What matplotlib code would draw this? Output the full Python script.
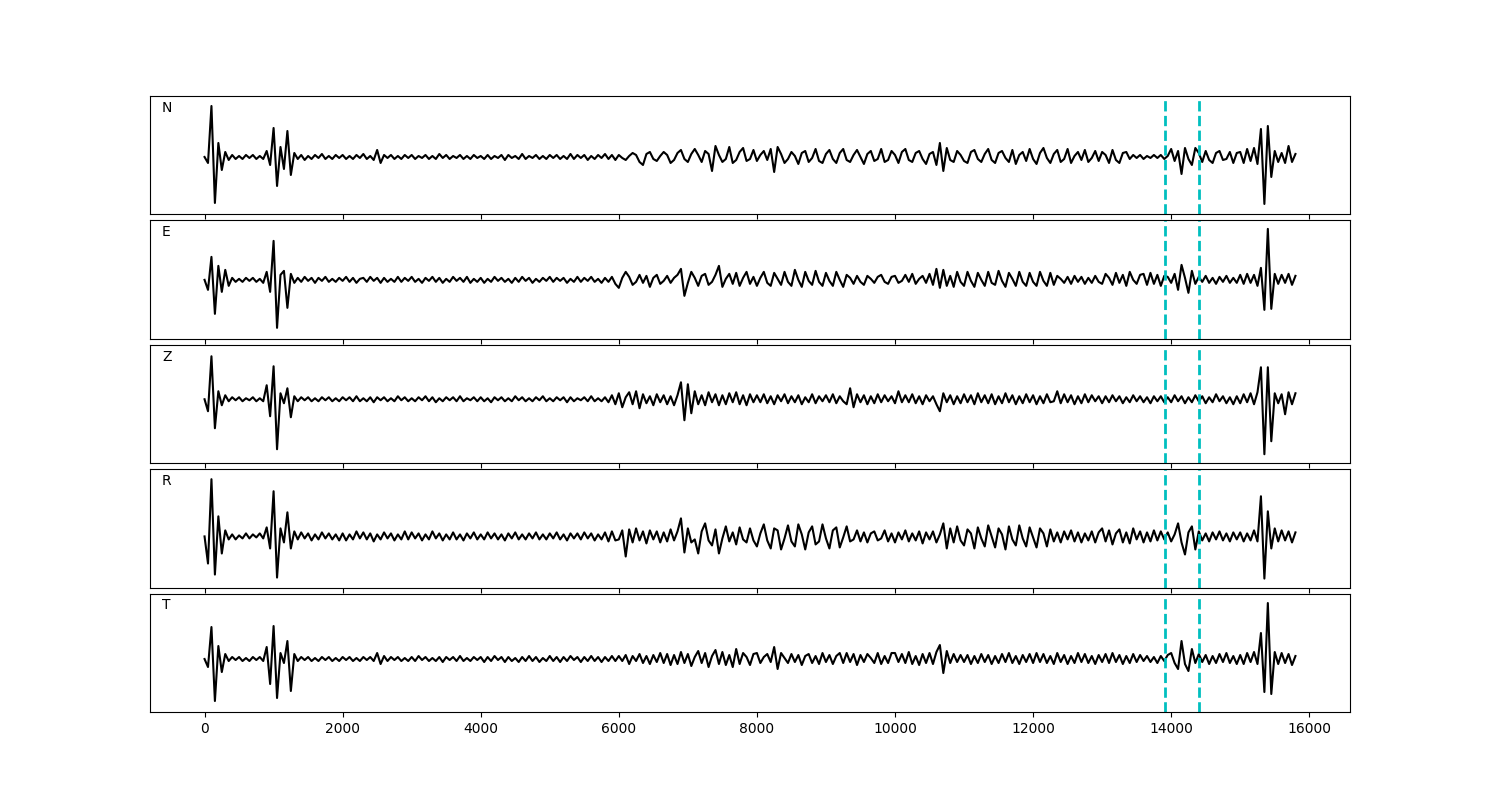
import numpy as np
import matplotlib
matplotlib.use("Agg")
import matplotlib.pyplot as plt

# one amplitude every 50 samples, 20 values (1000 samples) per line
dt = 50
components = ["N", "E", "Z", "R", "T"]
picks = [13915, 14410]

trace_n = [
    0, -6, 51, -46, 14, -13, 5, -3, 2, -2, 1, -2, 2, -1, 2, -2, 1, -2, 6, -8,
    29, -29, 10, -12, 26, -18, 4, -2, 2, -3, 1, -2, 2, -1, 3, -2, 1, -2, 2, -1,
    2, -2, 1, -2, 2, -1, 3, -2, 1, -3, 7, -6, 2, -1, 2, -2, 1, -2, 2, -1,
    2, -2, 1, -1, 2, -2, 1, -2, 3, -1, 2, -2, 1, -1, 2, -2, 1, -2, 2, -1,
    1, -2, 2, -2, 1, -1, 2, -3, 2, -1, 1, -2, 3, -2, 1, -1, 2, -2, 1, -2,
    2, -1, 2, -2, 1, -2, 3, -2, 2, -1, 2, -3, 1, -2, 2, -1, 3, -2, 2, -3,
    2, -1, -3, 1, 4, 2, -5, -8, 3, 5, -2, -4, 1, 5, 2, -6, -3, 4, 7, -2,
    -5, 3, 8, 2, -5, 6, 3, -14, 11, 2, -5, -2, 10, -6, -3, 5, 9, -4, -2, 7,
    -4, 2, 6, -3, 8, -15, 10, 3, -6, -2, 5, 1, -7, 4, 6, -5, -1, 8, -4, -6,
    3, 7, -2, -6, 4, 8, -3, -5, 2, 7, 0, -7, 3, 6, -4, -2, 8, -5, -3, 6,
    2, -6, 5, 8, -3, -5, 4, 6, -2, -7, 3, 5, -8, 14, -14, 9, -3, -5, 6, 2,
    -4, -6, 5, 7, -2, -5, 3, 8, -3, -6, 4, 6, -1, -5, 7, -7, 2, 5, -4, 8,
    -2, -7, 4, 9, -1, -6, 3, 7, -5, -2, 8, -6, 1, 5, -3, 7, -5, -1, 6, -4,
    5, 2, -6, 7, -3, -6, 4, 5, -2, 2, -1, 2, -2, 1, -1, 2, -1, 2, -2, 1,
    8, -4, 6, -17, 9, -2, -8, 9, 4, -5, 6, -3, -6, 4, 6, -3, -2, 5, -6, 4,
    5, -6, 8, -4, 9, -7, 28, -47, 31, -20, 6, -5, 4, -6, 11, -5, 3,
]

trace_e = [
    0, -10, 23, -34, 14, -12, 10, -6, 2, -2, 1, -2, 2, -1, 2, -2, 1, -3, 8, -12,
    39, -48, 5, 9, -28, 6, -3, 2, -2, 3, -1, 2, -3, 2, -1, 3, -2, 1, -2, 2,
    -1, 3, -2, 2, -3, 1, 2, -2, 3, -1, 2, -3, 2, -2, 1, -2, 3, -2, 2, -1,
    3, -2, 1, -3, 2, -1, 3, -2, 2, -3, 1, -2, 3, -1, 2, -2, 3, -3, 1, -2,
    2, -3, 1, -2, 3, -1, 2, -2, 1, -3, 2, -2, 3, -1, 2, -3, 1, -2, 2, -1,
    3, -2, 2, -1, 2, -3, 1, -2, 3, -2, 2, -1, 3, -2, 1, -3, 2, -2, 3, -4,
    -8, 2, 8, 3, -5, -2, 5, -3, 4, -7, 2, 5, -4, -1, 4, -3, 2, 5, 11, -16,
    -3, 8, 2, -6, 4, 6, -5, -2, 5, 14, -7, 1, 6, -4, 7, -6, 2, 8, -4, 3,
    -6, 2, 8, -3, -6, 7, 1, -5, 8, -2, -6, 10, 0, -7, 8, -1, -5, 9, -2, -6,
    7, -1, -6, 8, 0, -7, 5, 2, -4, 4, -2, -5, 4, 1, -3, 3, 5, -2, -4, 3,
    4, -3, -1, 5, -2, 6, -4, 1, 4, -3, 6, -5, 11, -8, 10, -6, 4, -7, 8, -2,
    -6, 8, -1, -7, 7, 0, -6, 8, -3, -5, 9, -1, -7, 7, 1, -6, 8, -2, -6, 7,
    -2, -6, 8, -1, -6, 7, -5, 4, 1, -3, 3, -4, 4, -2, 3, -4, 2, -3, 4, -2,
    -4, 6, 2, -5, 7, -3, 5, -6, 8, 0, -4, 5, 6, -5, 7, -4, 5, -6, 4, 3,
    -3, 6, -10, 15, 2, -13, 9, -4, 3, -2, 4, -3, 2, -4, 3, -2, 4, -3, 2, -3,
    5, -4, 6, -3, 5, -6, 12, -30, 51, -29, 6, -4, 5, -3, 6, -5, 4,
]

trace_z = [
    0, -12, 43, -29, 8, -6, 4, -2, 2, -1, 2, -2, 1, -1, 2, -2, 1, -2, 14, -17,
    33, -50, 6, -4, 11, -18, 3, -2, 2, -1, 2, -2, 1, -2, 2, -1, 2, -2, 1, -2,
    2, -1, 2, -2, 3, -2, 1, -2, 2, -3, 2, -1, 2, -2, 1, -2, 3, -1, 2, -2,
    1, -2, 2, -1, 3, -2, 2, -3, 1, -2, 2, -1, 2, -2, 3, -2, 1, -1, 2, -2,
    2, -2, 1, -3, 2, -1, 2, -2, 1, -2, 3, -1, 2, -2, 1, -2, 2, -1, 3, -2,
    1, -2, 2, -1, 2, -3, 2, -2, 1, -1, 2, -2, 3, -2, 1, -2, 2, -3, 4, -5,
    6, -8, 2, 7, -5, 8, -9, 5, -4, 3, -6, 5, -3, 4, -5, 3, -6, 4, 17, -21,
    15, -14, 8, -5, 4, -6, 7, -3, 5, -6, 4, -5, 6, -3, 7, -5, 4, -6, 5, -3,
    4, -3, 5, -4, 3, -5, 4, -2, 5, -4, 3, -3, 4, -5, 2, -3, 5, -4, 3, -2,
    4, -3, 5, -4, 3, -2, -5, 11, -8, 5, -3, 4, -5, 3, -4, 5, -3, 4, -2, 3,
    -4, 8, -3, 4, -3, 5, -4, 3, -5, 4, -2, 3, -5, -12, 6, -3, 4, -5, 3, -4,
    5, -3, 4, -5, 6, -3, 4, -4, 5, -5, 3, -4, 6, -3, 4, -5, 3, -4, 5, -3,
    4, -5, 3, -4, 5, -3, -2, 8, -4, 5, -3, 4, -5, 3, -4, 5, -3, 4, -2, 3,
    -4, 3, -3, 4, -2, 3, -4, 2, -3, 4, -2, 3, -3, 2, -4, 3, -2, 3, -3, 2,
    -3, 4, -2, 3, -4, 2, -3, 4, -2, 3, -4, 2, -3, 5, -2, 3, -4, 2, -5, 3,
    -4, 5, -3, 6, -5, 7, 32, -55, 32, -42, 6, -4, 5, -15, 7, -5, 6,
]

trace_r = [
    0, -27, 57, -38, 20, -17, 6, -3, 2, -3, 1, -2, 3, -2, 2, -1, 3, -2, 9, -12,
    45, -41, 8, -6, 24, -12, 5, -3, 4, -2, 3, -4, 2, -3, 4, -2, 3, -3, 2, -4,
    3, -4, 2, -3, 5, -2, 4, -3, 3, -5, 2, -3, 4, -2, 3, -4, 2, -3, 5, -3,
    4, -2, 3, -4, 2, -3, 5, -2, 3, -4, 2, -3, 4, -3, 2, -4, 3, -2, 4, -3,
    2, -3, 4, -2, 3, -3, 2, -4, 3, -2, 4, -3, 2, -3, 3, -2, 4, -3, 2, -3,
    3, -2, 4, -3, 2, -4, 3, -2, 3, -3, 4, -2, 3, -4, 2, -3, 4, -5, 5, -4,
    -3, 6, -20, 7, -6, 8, -4, 5, -7, 6, -3, 5, -6, 4, -5, 7, -4, 5, 18, -16,
    8, -6, -3, -17, 5, 13, -4, -9, 7, -17, -2, 10, -5, 4, -8, 9, -3, -6, 8, -4,
    -10, 3, 12, -4, -12, 8, 6, -13, -2, 11, -5, -10, 12, 2, -13, 4, 10, -8, -5, 12,
    -2, -12, 6, 9, -11, -1, 10, -5, -3, 6, -5, 4, -6, 3, 5, -4, -2, 6, -5, 3,
    -6, 4, -3, 6, -5, 3, -4, 5, -7, 4, -3, 5, -6, 2, 13, -12, 8, -6, 10, -4,
    -9, 7, 3, -12, 9, -2, -10, 11, 0, -11, 8, 2, -13, 10, -3, -9, 11, -2, -10, 9,
    -1, -11, 8, 3, -10, 7, -5, 4, -6, 5, -3, 6, -5, 4, -6, 3, -4, 5, -6, 4,
    8, -5, 6, -8, 3, 7, -6, 4, -7, 8, -3, 5, -6, 4, -5, 6, -4, 5, -3, 4,
    -5, 2, 13, -6, -18, 4, 10, -13, 5, -4, 3, -5, 4, -3, 5, -4, 3, -5, 4, -3,
    4, -5, 3, -4, 6, -5, 40, -42, 25, -12, 8, -5, 6, -4, 5, -6, 4,
]

trace_t = [
    0, -8, 32, -42, 13, -13, 5, -2, 2, -1, 2, -2, 1, -2, 2, -1, 2, -2, 12, -25,
    33, -39, 6, -4, 18, -32, 5, -2, 2, -1, 2, -2, 1, -2, 2, -1, 2, -2, 1, -2,
    2, -1, 2, -2, 1, -2, 2, -1, 2, -2, 6, -5, 3, -2, 2, -1, 2, -2, 1, -2,
    2, -2, 3, -1, 2, -2, 1, -2, 2, -3, 2, -1, 2, -2, 3, -2, 1, -2, 2, -1,
    2, -3, 2, -2, 3, -1, 2, -3, 2, -2, 1, -3, 2, -2, 3, -2, 2, -3, 1, -2,
    3, -2, 2, -3, 2, -2, 3, -1, 2, -3, 2, -2, 3, -2, 2, -3, 2, -2, 3, -2,
    3, -2, 4, -5, 3, -2, 5, -4, 3, -5, 4, -3, 6, -4, 5, -6, 4, -5, 7, -4,
    5, -7, 2, 8, -4, 6, -8, 3, 9, -5, 7, -6, 4, -8, 10, -5, 6, 2, -6, 5,
    6, -4, 2, 5, -3, 12, -10, 6, 1, -4, 5, -3, 4, -6, 3, 5, -4, 3, -5, 6,
    -3, 4, -5, 3, 6, -4, 6, -3, 5, -6, 4, -3, 5, 1, -4, 6, -5, 3, -4, 6,
    6, -3, 5, -4, 7, -5, 3, -6, 5, -4, 6, -5, 7, 14, -14, 8, -4, 5, -3, 4,
    -3, 4, -5, 3, -4, 5, -3, 4, -5, 3, -4, 5, -3, 6, -4, 3, -5, 4, -3, 5,
    -4, 6, -3, 5, -4, 3, -5, 6, -3, 4, -5, 3, -4, 6, -3, 5, -4, 3, -5, 4,
    -3, 5, -4, 6, -3, 4, -5, 3, -4, 5, -3, 4, -2, 3, -3, 2, -4, 3, -2, 4,
    6, -4, -10, 18, -5, -12, 10, -4, 5, -3, 4, -5, 3, -4, 5, -3, 6, -4, 3, -5,
    4, -5, 6, -3, 7, -5, 26, -33, 56, -35, 7, -5, 6, -4, 5, -6, 3,
]

traces = [trace_n, trace_e, trace_z, trace_r, trace_t]
ylims = [(-57.5, 61), (-59, 59.5), (-64, 54.5), (-51, 67), (-53, 65.5)]

fig, axes = plt.subplots(5, 1, figsize=(15, 8), sharex=True)
fig.subplots_adjust(left=0.1, right=0.9, hspace=0.05)

for ax, name, tr, yl in zip(axes, components, traces, ylims):
    t = np.arange(len(tr)) * dt
    ax.plot(t, tr, color='k', lw=1.5)
    for p in picks:
        ax.axvline(p, color='c', ls='--', lw=2)
    ax.set_ylim(yl)
    ax.set_yticks([])
    ax.text(0.01, 0.9, name, transform=ax.transAxes, va='center', ha='left')

fig.savefig('out.png', dpi=100)
